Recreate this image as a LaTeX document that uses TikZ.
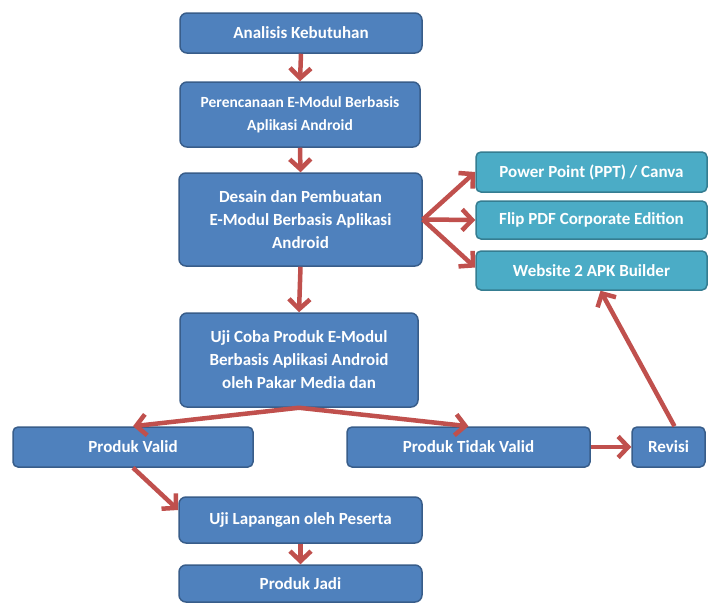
\documentclass[tikz,border=0pt]{standalone}
\usepackage{fontspec}
\setmainfont{Carlito}
\usetikzlibrary{arrows.meta}
\definecolor{boxblue}{HTML}{4F81BD}
\definecolor{boxblueline}{HTML}{385D8A}
\definecolor{boxteal}{HTML}{4BACC6}
\definecolor{boxtealline}{HTML}{357D91}
\definecolor{arrred}{HTML}{C0504D}
\begin{document}
\begin{tikzpicture}[x=1pt,y=-1pt,
  bluebox/.style={draw=boxblueline,fill=boxblue,line width=1.5pt,rounded corners=7pt,
    text=white,font=\fontsize{17}{23}\selectfont\bfseries,align=center,inner sep=0pt},
  tealbox/.style={draw=boxtealline,fill=boxteal,line width=1.5pt,rounded corners=5pt,
    text=white,font=\fontsize{17}{23}\selectfont\bfseries,align=center,inner sep=0pt,
    minimum width=231pt},
  flow/.style={draw=arrred,line width=4.5pt,-{Straight Barb[length=10pt,width=21pt,line width=4.5pt]}}]
\useasboundingbox[fill=white] (0,0) rectangle (710,605);
\node[bluebox,minimum width=242pt,minimum height=40pt] (b1) at (301,33) {Analisis Kebutuhan};
\node[bluebox,minimum width=240pt,minimum height=65pt,font=\fontsize{15.5}{23}\selectfont\bfseries] (b2) at (300,114.5) {Perencanaan E-Modul Berbasis\\Aplikasi Android};
\node[bluebox,minimum width=243pt,minimum height=93pt] (b3) at (300.5,219.5) {Desain dan Pembuatan\\E-Modul Berbasis Aplikasi\\Android};
\node[tealbox,minimum height=40pt] (tA) at (591.5,172) {Power Point (PPT) / Canva};
\node[tealbox,minimum height=38pt] (tB) at (591.5,220) {Flip PDF Corporate Edition};
\node[tealbox,minimum height=39pt] (tC) at (591.5,270.5) {Website 2 APK Builder};
\node[bluebox,minimum width=238pt,minimum height=94pt] (b4) at (299,360) {Uji Coba Produk E-Modul\\Berbasis Aplikasi Android\\oleh Pakar Media dan};
\node[bluebox,minimum width=240pt,minimum height=40pt,rounded corners=5pt] (pv) at (133,447) {Produk Valid};
\node[bluebox,minimum width=243pt,minimum height=40pt,rounded corners=5pt] (ptv) at (468.5,447) {Produk Tidak Valid};
\node[bluebox,minimum width=73pt,minimum height=40pt,rounded corners=5pt] (rev) at (668.5,447) {Revisi};
\node[bluebox,minimum width=243pt,minimum height=46pt] (ul) at (300.5,520) {Uji Lapangan oleh Peserta};
\node[bluebox,minimum width=243pt,minimum height=37pt] (pj) at (300.5,583.5) {Produk Jadi};
\draw[flow] (b1.south) -- (b2.north);
\draw[flow] (b2.south) -- (b3.north);
\draw[flow] (b3.east) -- (tA.west);
\draw[flow] (b3.east) -- (tB.west);
\draw[flow] (b3.east) -- ([yshift=3pt]tC.west);
\draw[flow] (b3.south) -- (b4.north);
\draw[flow] (b4.south) -- (pv.north);
\draw[flow] (b4.south) -- (ptv.north);
\draw[flow] (ptv.east) -- (rev.west);
\draw[flow] ([xshift=6pt]rev.north) -- ([xshift=9pt]tC.south);
\draw[flow] (pv.south) -- ([yshift=10pt]ul.west);
\draw[flow] (ul.south) -- (pj.north);
\end{tikzpicture}
\end{document}
